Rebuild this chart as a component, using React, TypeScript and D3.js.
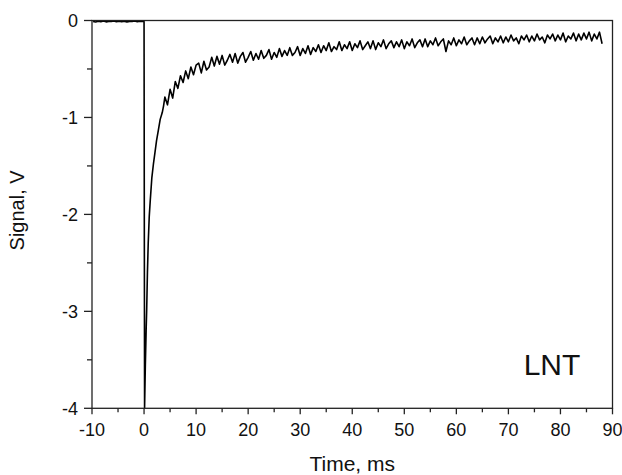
import React from "react";
import * as d3 from "d3";

// Pre-trigger baseline, t = -9.8 .. 0 (ms), values in V
const baselineTimes = [-9.8, -9.3, -8.8, -8.3, -7.8, -7.3, -6.8, -6.3, -5.8, -5.3, -4.8, -4.3, -3.8, -3.3, -2.8, -2.3, -1.8, -1.3, -0.8, -0.3, 0.0];
const baselineValues = [-0.01, -0.015, -0.008, -0.012, -0.006, -0.014, -0.009, -0.011, -0.005, -0.013, -0.008, -0.012, -0.007, -0.014, -0.009, -0.011, -0.006, -0.012, -0.008, -0.01, -0.01];

// Fast drop and recovery
const riseTimes = [0.1, 0.25, 0.4, 0.5, 0.65, 0.8, 1.0, 1.2, 1.5, 1.8, 2.1, 2.4, 2.75, 3.1, 3.5, 3.75];
const riseValues = [-4.0, -3.55, -3.2, -3.0, -2.6, -2.3, -2.02, -1.85, -1.62, -1.48, -1.36, -1.24, -1.13, -1.02, -0.95, -0.88];

// Noisy tail, sampled every 0.5 ms from 4.0 ms
const tailStart = 4.0;
const tailStep = 0.5;
const tailValues = [
  -0.79, -0.87, -0.71, -0.80, -0.63, -0.70, -0.57, -0.64, -0.52, -0.60,
  -0.48, -0.56, -0.46, -0.44, -0.54, -0.42, -0.51, -0.48, -0.38, -0.47,
  -0.37, -0.45, -0.36, -0.46, -0.41, -0.35, -0.43, -0.34, -0.44, -0.37,
  -0.33, -0.43, -0.38, -0.32, -0.41, -0.34, -0.40, -0.31, -0.39, -0.36,
  -0.30, -0.40, -0.33, -0.38, -0.29, -0.37, -0.31, -0.36, -0.28, -0.36,
  -0.33, -0.27, -0.36, -0.29, -0.34, -0.26, -0.35, -0.28, -0.32, -0.25,
  -0.33, -0.26, -0.31, -0.23, -0.32, -0.27, -0.30, -0.22, -0.31, -0.25,
  -0.29, -0.22, -0.31, -0.24, -0.28, -0.21, -0.30, -0.26, -0.22, -0.29,
  -0.21, -0.30, -0.23, -0.27, -0.20, -0.29, -0.24, -0.21, -0.28, -0.22,
  -0.27, -0.20, -0.29, -0.22, -0.26, -0.19, -0.28, -0.23, -0.20, -0.27,
  -0.19, -0.27, -0.21, -0.25, -0.18, -0.26, -0.22, -0.19, -0.32, -0.21,
  -0.25, -0.18, -0.26, -0.20, -0.24, -0.17, -0.25, -0.21, -0.18, -0.25,
  -0.18, -0.24, -0.17, -0.23, -0.19, -0.16, -0.24, -0.18, -0.22, -0.16,
  -0.23, -0.17, -0.22, -0.15, -0.21, -0.18, -0.24, -0.16, -0.20, -0.15,
  -0.22, -0.16, -0.21, -0.14, -0.20, -0.17, -0.23, -0.15, -0.19, -0.14,
  -0.21, -0.15, -0.20, -0.13, -0.22, -0.16, -0.19, -0.13, -0.21, -0.14,
  -0.20, -0.13, -0.19, -0.12, -0.21, -0.14, -0.19, -0.12, -0.24,
];

const xTicks = [-10, 0, 10, 20, 30, 40, 50, 60, 70, 80, 90];
const xMinorTicks = [-5, 5, 15, 25, 35, 45, 55, 65, 75, 85];
const yTicks = [0, -1, -2, -3, -4];
const yMinorTicks = [-0.5, -1.5, -2.5, -3.5];

const xLabel = "Time, ms";
const yLabel = "Signal, V";
const sampleLabel = "LNT";

export default function App() {
  const W = 622, H = 475;
  const left = 92, right = 612.5, top = 20.5, bottom = 408.3;
  const x = d3.scaleLinear().domain([-10, 90]).range([left, right]);
  const y = d3.scaleLinear().domain([-4, 0]).range([bottom, top]);

  const pts: [number, number][] = [];
  baselineTimes.forEach((t, i) => pts.push([t, baselineValues[i]]));
  riseTimes.forEach((t, i) => pts.push([t, riseValues[i]]));
  tailValues.forEach((v, i) => pts.push([tailStart + i * tailStep, v]));

  const line = d3.line<[number, number]>().x(d => x(d[0])).y(d => y(d[1]));
  const font = "'Liberation Sans', Arial, sans-serif";
  const axisColor = "#222";

  return (
    <svg width={W} height={H} style={{ position: "absolute", left: 0, top: 0, background: "#fff" }} fontFamily={font}>
      <rect x={0} y={0} width={W} height={H} fill="#fff" />
      <path d={line(pts) || ""} fill="none" stroke="#000" strokeWidth={1.6} strokeLinejoin="round" />
      {/* frame */}
      <rect x={left} y={top} width={right - left} height={bottom - top} fill="none" stroke={axisColor} strokeWidth={1.3} />
      {/* x ticks */}
      {xTicks.map(t => (
        <g key={"xt" + t}>
          <line x1={x(t)} x2={x(t)} y1={bottom} y2={bottom + 6} stroke={axisColor} strokeWidth={1.3} />
          <text x={x(t)} y={436} textAnchor="middle" fontSize={18} fill="#111">{t}</text>
        </g>
      ))}
      {xMinorTicks.map(t => (
        <line key={"xm" + t} x1={x(t)} x2={x(t)} y1={bottom} y2={bottom + 4} stroke={axisColor} strokeWidth={1.3} />
      ))}
      {/* y ticks */}
      {yTicks.map(t => (
        <g key={"yt" + t}>
          <line x1={left - 8} x2={left} y1={y(t)} y2={y(t)} stroke={axisColor} strokeWidth={1.3} />
          <text x={78} y={y(t)} dy="0.36em" textAnchor="end" fontSize={18} fill="#111">{t}</text>
        </g>
      ))}
      {yMinorTicks.map(t => (
        <line key={"ym" + t} x1={left - 5} x2={left} y1={y(t)} y2={y(t)} stroke={axisColor} strokeWidth={1.3} />
      ))}
      <text x={(left + right) / 2} y={471} textAnchor="middle" fontSize={21} fill="#111">{xLabel}</text>
      <text transform={`translate(24,${(top + bottom) / 2 - 4}) rotate(-90)`} textAnchor="middle" fontSize={20} fill="#111">{yLabel}</text>
      <text x={552} y={375} textAnchor="middle" fontSize={30} fill="#111">{sampleLabel}</text>
    </svg>
  );
}
